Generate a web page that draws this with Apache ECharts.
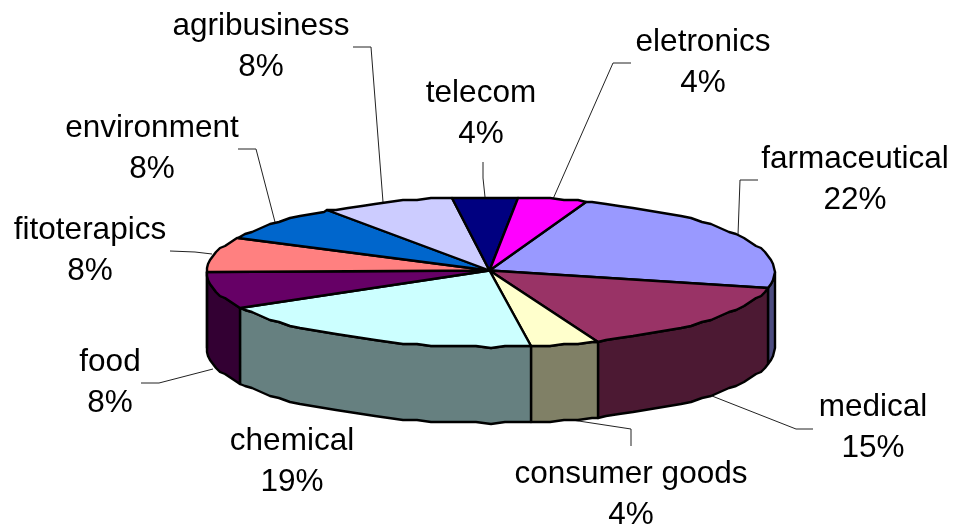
<!DOCTYPE html>
<html>
<head>
<meta charset="utf-8">
<style>
  html, body { margin: 0; padding: 0; background: #fff; }
  #chart { width: 953px; height: 525px; }
</style>
<script src="https://cdn.jsdelivr.net/npm/echarts@6/dist/echarts.min.js"></script>
</head>
<body>
<div id="chart"></div>
<script>
// clockwise, starting from the farmaceutical slice
const categories = ['farmaceutical', 'medical', 'consumer goods', 'chemical', 'food', 'fitoterapics', 'environment', 'agribusiness', 'telecom', 'eletronics']
// slice sizes (the printed labels are rounded)
const shares = [23, 15.3, 3.9, 19.4, 7.8, 7.6, 7.6, 7.6, 3.7, 3.9]
const percentLabels = ['22%', '15%', '4%', '19%', '8%', '8%', '8%', '8%', '4%', '4%']
const topColors = ['#9999FF', '#993366', '#FFFFCC', '#CCFFFF', '#660066', '#FF8080', '#0066CC', '#CCCCFF', '#000080', '#FF00FF']
const sideColors = ['#4C4C80', '#4C1933', '#808066', '#668080', '#330033', '#804040', '#003366', '#666680', '#000040', '#800080']

// label centre (x, first line y) and leader line for each slice
const labelPos = [[855, 157], [873, 405], [631, 472], [292, 439], [110, 360], [90, 228], [152, 126], [261, 24], [481, 91], [703, 40]]
const leaders = [
  [[758, 180], [740, 180], [738, 235]],
  [[813, 429], [796, 429], [712, 396]],
  [[631, 446], [631, 429], [572, 420]],
  [],
  [[141, 383], [159, 383], [213, 369]],
  [[170, 251], [195, 252], [212, 254]],
  [[238, 149], [256, 149], [275, 222]],
  [[353, 47], [371, 47], [383, 202]],
  [[483, 162], [483, 178], [485, 197]],
  [[631, 63], [613, 63], [553, 199]]
]

const pie = { cx: 490.5, cy: 272, rx: 284, ry: 75, depth: 76, startAngle: 19.6 }
const total = shares.reduce((a, b) => a + b, 0)

// point on the rim; coarse rounding gives the rough edge the old picture has
const rim = (deg, drop) => {
  const a = deg * Math.PI / 180
  return [
    Math.round(pie.cx + pie.rx * Math.sin(a)),
    Math.round((pie.cy - pie.ry * Math.cos(a)) / 2) * 2 + (drop || 0)
  ]
}

const arc = (from, to, drop) => {
  const pts = [rim(from, drop)]
  for (let d = Math.ceil(from / 3) * 3; d < to; d += 3) {
    if (d > from) pts.push(rim(d, drop))
  }
  pts.push(rim(to, drop))
  return pts
}

const sliceAngles = (index, value) => {
  const before = shares.slice(0, index).reduce((a, b) => a + b, 0)
  const map = v => echarts.number.linearMap(v, [0, total], [pie.startAngle, pie.startAngle + 360])
  return [map(before), map(before + value)]
}

const seriesData = shares.map((v, i) => [v, i])

const renderSide = (params, api) => {
  const i = api.value(1)
  const [a0, a1] = sliceAngles(i, api.value(0))
  const from = Math.max(a0, 90)
  const to = Math.min(a1, 270)
  if (from >= to) return null
  const points = arc(from, to, 0).concat(arc(from, to, pie.depth).reverse())
  return {
    type: 'polygon',
    shape: { points },
    style: { fill: sideColors[i], stroke: '#000', lineWidth: 2.4, lineJoin: 'round' }
  }
}

const renderTop = (params, api) => {
  const i = api.value(1)
  const [a0, a1] = sliceAngles(i, api.value(0))
  const points = [[pie.cx - 1, pie.cy - 1.5]].concat(arc(a0, a1, 0))
  return {
    type: 'polygon',
    shape: { points },
    style: { fill: topColors[i], stroke: '#000', lineWidth: 2.4, lineJoin: 'round' }
  }
}

const renderLabel = (params, api) => {
  const i = api.value(1)
  const children = [{
    type: 'text',
    style: {
      x: labelPos[i][0],
      y: labelPos[i][1] + 23,
      text: categories[i] + '\n' + percentLabels[i],
      align: 'center',
      verticalAlign: 'middle',
      fontFamily: 'Liberation Sans',
      fontSize: 31.5,
      lineHeight: 41.5,
      fill: '#000'
    }
  }]
  if (leaders[i].length) {
    children.push({
      type: 'polyline',
      shape: { points: leaders[i] },
      style: { fill: 'none', stroke: '#222', lineWidth: 1 }
    })
  }
  return { type: 'group', children }
}

const chart = echarts.init(document.getElementById('chart'))
chart.setOption({
  animation: false,
  backgroundColor: '#fff',
  tooltip: { show: false },
  series: [
    { type: 'custom', coordinateSystem: 'none', renderItem: renderLabel, data: seriesData, silent: true, z: 1 },
    { type: 'custom', coordinateSystem: 'none', renderItem: renderSide, data: seriesData, silent: true, z: 2 },
    { type: 'custom', coordinateSystem: 'none', renderItem: renderTop, data: seriesData, silent: true, z: 3 }
  ]
})
</script>
</body>
</html>
